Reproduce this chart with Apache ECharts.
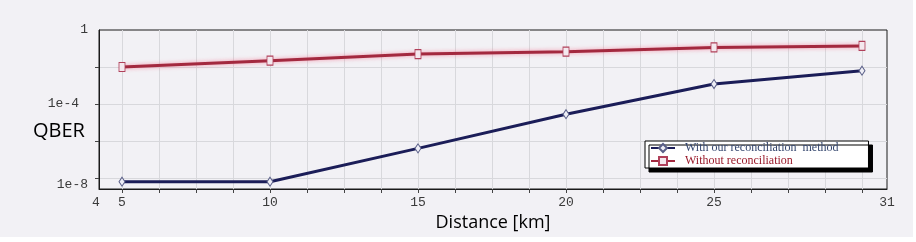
<!DOCTYPE html>
<html>
<head>
<meta charset="utf-8">
<script src="https://cdn.jsdelivr.net/npm/echarts@6/dist/echarts.min.js"></script>
<style>
html,body{margin:0;padding:0;background:#ffffff;}
#chart{width:913px;height:237px;}
</style>
</head>
<body>
<div id="chart"></div>
<script>
// ---- data ----
const distances = [5, 10, 15, 20, 25, 30];
const withReconciliation = [6.3e-9, 6.3e-9, 4.0e-7, 2.8e-5, 1.2e-3, 6.3e-3];
const withoutReconciliation = [1.0e-2, 2.2e-2, 5.0e-2, 6.7e-2, 1.15e-1, 1.37e-1];
const seriesNames = ['With our reconciliation  method', 'Without reconciliation'];

// axis extents and ticks
const xMin = 4.223, xMax = 30.845;
const xTickValues = [5, 6.25, 7.5, 8.75, 10, 11.25, 12.5, 13.75, 15, 16.25, 17.5, 18.75, 20, 21.25, 22.5, 23.75, 25, 26.25, 27.5, 28.75, 30];
const xLabelValues = [4.223, 5, 10, 15, 20, 25, 30.845];
const xLabelTexts = ['4', '5', '10', '15', '20', '25', '31'];
const yMin = 2.54e-9, yMax = 1;
const yTickValues = [1e-2, 1e-4, 1e-6, 1e-8];
const yLabelValues = [1, 1e-4, 4.2e-9];
const yLabelTexts = ['1', '1e-4', '1e-8'];

function lookup(vals, texts, v) {
  for (let i = 0; i < vals.length; i++) {
    if (Math.abs(vals[i] - v) <= Math.abs(vals[i]) * 1e-6 + 1e-12) return texts[i];
  }
  return '';
}

const chart = echarts.init(document.getElementById('chart'));
const tickFont = {fontFamily: 'Liberation Mono', fontSize: 13, color: '#3a3a3a'};

chart.setOption({
  backgroundColor: '#f2f1f5',
  animation: false,
  grid: {left: 99, top: 30, width: 788, height: 159, show: true, borderColor: '#1a1a1a', borderWidth: 1, backgroundColor: 'transparent'},
  xAxis: {
    type: 'value', min: xMin, max: xMax,
    name: 'Distance [km]', nameLocation: 'middle', nameGap: 24,
    nameTextStyle: {fontFamily: 'Open Sans', fontSize: 18, color: '#000'},
    axisLine: {show: true, lineStyle: {color: '#1a1a1a', width: 1}},
    axisTick: {show: true, length: 4, customValues: xTickValues, lineStyle: {color: '#444'}},
    splitLine: {show: true, lineStyle: {color: '#d8d8dc', width: 1}},
    axisLabel: Object.assign({
      margin: 7, customValues: xLabelValues,
      formatter: v => {
        const t = lookup(xLabelValues, xLabelTexts, v);
        return v < 4.5 ? '{first|' + t + '}' : t;
      },
      rich: {first: Object.assign({padding: [0, 6, 0, 0]}, tickFont)}
    }, tickFont)
  },
  yAxis: {
    type: 'log', min: yMin, max: yMax, logBase: 10,
    axisLine: {show: true, lineStyle: {color: '#1a1a1a', width: 1}},
    axisTick: {show: true, length: 4, customValues: yTickValues, lineStyle: {color: '#444'}},
    splitLine: {show: true, lineStyle: {color: '#d8d8dc', width: 1}},
    axisLabel: Object.assign({
      margin: 11, customValues: yLabelValues,
      formatter: v => {
        const t = lookup(yLabelValues, yLabelTexts, v);
        return t === '1e-4' ? '{mid|' + t + '}' : t;
      },
      rich: {mid: Object.assign({padding: [0, 9, 0, 0]}, tickFont)}
    }, tickFont)
  },
  graphic: [{
    type: 'text', left: 33, top: 121,
    style: {text: 'QBER', font: '20px "Open Sans"', fill: '#000'}
  }],
  legend: {
    left: 645, top: 141, orient: 'vertical',
    backgroundColor: '#ffffff', borderColor: '#000', borderWidth: 1,
    shadowColor: '#000', shadowBlur: 0, shadowOffsetX: 4, shadowOffsetY: 4,
    padding: [1, 30, 1, 5], itemGap: 1, itemWidth: 24, itemHeight: 10,
    textStyle: {fontFamily: 'Liberation Serif', fontSize: 12, padding: [0, 0, 0, 5]},
    data: [
      {name: seriesNames[0], textStyle: {color: '#34466e'}},
      {name: seriesNames[1], textStyle: {color: '#9a1a2a'}}
    ]
  },
  series: [
    {
      name: seriesNames[0], type: 'line',
      data: distances.map((d, i) => [d, withReconciliation[i]]),
      symbol: 'diamond', symbolSize: [6, 9], showSymbol: true,
      lineStyle: {color: '#1b1d58', width: 3},
      itemStyle: {color: '#eeeef6', borderColor: '#5a5f88', borderWidth: 1}
    },
    {
      name: seriesNames[1], type: 'line',
      data: distances.map((d, i) => [d, withoutReconciliation[i]]),
      symbol: 'rect', symbolSize: [6, 9], showSymbol: true,
      lineStyle: {color: '#a3293f', width: 3, shadowColor: 'rgba(245,110,140,0.7)', shadowBlur: 4},
      itemStyle: {color: '#f4e8ee', borderColor: '#b0405a', borderWidth: 1}
    }
  ]
});
</script>
</body>
</html>
